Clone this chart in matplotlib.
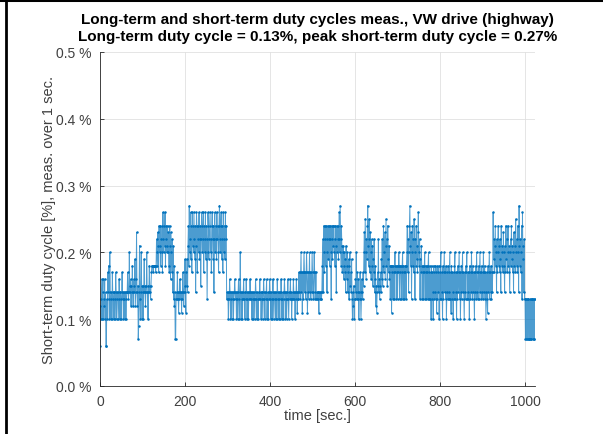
import matplotlib
matplotlib.use('Agg')
import matplotlib.pyplot as plt
import numpy as np
from matplotlib.lines import Line2D

# short-term duty cycle, hundredths of a percent, one value per second
duty_000 = [6, 12, 10, 13, 16, 10, 14, 16, 10, 13,
            12, 16, 10, 14, 6, 6, 13, 10, 17, 14,
            18, 13, 10, 20, 14, 10, 13, 14, 10, 17,
            14, 13, 10, 14, 14, 10, 13, 17, 14, 10,
            14, 13, 14, 10, 13, 16, 14, 10, 14, 13,
            10, 14, 17, 13, 14, 10, 14, 13, 10, 14,
            14, 10, 13, 14, 14, 17, 14, 13, 14, 20,
            14, 15, 16, 12, 15, 14, 18, 14, 12, 16,
            15, 14, 19, 12, 14, 16, 23, 14, 12, 15,
            7, 9, 14, 21, 13, 10, 14, 20, 15, 10]
duty_100 = [14, 15, 10, 14, 19, 14, 15, 12, 14, 15,
            20, 14, 14, 10, 15, 14, 18, 15, 14, 13,
            15, 17, 18, 18, 18, 17, 18, 18, 18, 18,
            18, 17, 18, 22, 20, 18, 23, 21, 17, 24,
            21, 20, 24, 18, 22, 20, 24, 17, 26, 22,
            20, 24, 21, 26, 18, 22, 24, 20, 21, 24,
            20, 23, 18, 17, 24, 21, 16, 23, 20, 17,
            22, 14, 21, 13, 18, 12, 14, 7, 7, 13,
            14, 13, 17, 14, 13, 11, 14, 13, 16, 14,
            13, 14, 11, 14, 13, 17, 14, 12, 14, 15]
duty_200 = [19, 14, 11, 17, 15, 19, 14, 21, 24, 18,
            27, 20, 22, 26, 19, 24, 17, 26, 21, 24,
            20, 26, 22, 19, 24, 14, 21, 26, 24, 17,
            22, 24, 20, 26, 19, 22, 24, 15, 22, 26,
            24, 20, 22, 26, 17, 24, 20, 22, 26, 19,
            24, 22, 13, 20, 26, 24, 19, 22, 24, 26,
            20, 22, 17, 24, 26, 22, 19, 24, 14, 22,
            26, 20, 24, 22, 19, 26, 22, 24, 20, 17,
            24, 27, 22, 20, 24, 26, 19, 22, 24, 17,
            26, 22, 20, 24, 19, 26, 22, 24, 13, 14]
duty_300 = [13, 14, 10, 14, 13, 16, 14, 10, 13, 14,
            10, 14, 13, 14, 10, 13, 14, 16, 14, 13,
            14, 10, 13, 14, 10, 14, 16, 13, 10, 14,
            20, 14, 10, 13, 14, 10, 13, 14, 16, 13,
            14, 10, 14, 13, 16, 14, 10, 13, 14, 10,
            13, 14, 13, 16, 14, 13, 14, 10, 14, 13,
            10, 14, 13, 14, 10, 13, 16, 14, 13, 10,
            14, 13, 10, 14, 13, 14, 16, 13, 14, 10,
            13, 14, 14, 10, 13, 16, 14, 13, 10, 14,
            13, 14, 16, 10, 13, 14, 10, 14, 13, 16]
duty_400 = [14, 13, 10, 14, 13, 10, 14, 16, 13, 10,
            14, 13, 14, 10, 13, 14, 10, 16, 14, 13,
            10, 14, 13, 10, 14, 13, 16, 14, 10, 13,
            14, 10, 13, 14, 16, 14, 10, 13, 14, 10,
            13, 14, 16, 13, 10, 14, 13, 14, 16, 13,
            14, 10, 13, 14, 13, 16, 14, 13, 14, 10,
            14, 13, 16, 14, 11, 13, 14, 13, 17, 14,
            17, 13, 17, 20, 14, 17, 11, 17, 13, 17,
            20, 17, 14, 17, 13, 17, 20, 17, 11, 14,
            17, 13, 17, 20, 14, 17, 13, 17, 14, 20]
duty_500 = [17, 14, 13, 17, 20, 17, 13, 14, 17, 13,
            14, 13, 14, 14, 13, 11, 14, 13, 14, 13,
            14, 13, 14, 18, 22, 14, 24, 20, 17, 24,
            22, 18, 24, 20, 14, 22, 24, 19, 22, 24,
            18, 22, 24, 20, 13, 24, 22, 19, 24, 21,
            24, 20, 22, 18, 24, 21, 14, 24, 20, 22,
            24, 19, 22, 26, 20, 27, 22, 18, 24, 21,
            17, 20, 21, 18, 16, 20, 17, 19, 14, 21,
            18, 16, 20, 14, 17, 19, 13, 18, 20, 15,
            17, 14, 19, 13, 10, 14, 12, 15, 10, 13]
duty_600 = [13, 16, 14, 20, 13, 17, 14, 13, 16, 10,
            14, 13, 17, 14, 10, 13, 16, 14, 13, 17,
            15, 20, 23, 17, 25, 20, 16, 22, 19, 24,
            27, 21, 18, 25, 22, 17, 23, 20, 16, 22,
            18, 21, 15, 19, 17, 22, 14, 18, 16, 12,
            15, 11, 14, 17, 15, 22, 14, 16, 13, 15,
            17, 14, 19, 16, 22, 15, 18, 24, 17, 20,
            23, 16, 21, 25, 18, 22, 15, 24, 19, 17,
            21, 16, 18, 13, 18, 18, 11, 17, 18, 13,
            18, 17, 13, 18, 20, 17, 18, 13, 17, 18]
duty_700 = [13, 18, 17, 20, 18, 13, 18, 17, 18, 13,
            17, 18, 20, 13, 18, 17, 13, 18, 17, 18,
            13, 18, 20, 24, 17, 22, 14, 20, 24, 27,
            21, 18, 23, 13, 20, 24, 18, 22, 17, 25,
            20, 13, 22, 18, 24, 19, 21, 17, 23, 26,
            20, 18, 22, 13, 19, 17, 21, 18, 13, 17,
            18, 13, 17, 18, 20, 13, 18, 17, 13, 18,
            17, 13, 18, 20, 13, 17, 18, 13, 17, 10,
            18, 13, 17, 14, 10, 18, 13, 17, 14, 18,
            13, 17, 11, 18, 13, 17, 14, 18, 10, 17]
duty_800 = [13, 18, 20, 13, 17, 14, 10, 18, 13, 17,
            20, 14, 17, 13, 18, 10, 14, 17, 13, 18,
            14, 13, 17, 20, 13, 17, 11, 18, 13, 17,
            14, 10, 17, 13, 18, 20, 13, 17, 14, 10,
            17, 13, 18, 14, 17, 20, 13, 17, 10, 14,
            18, 13, 17, 20, 14, 17, 13, 10, 17, 14,
            13, 18, 17, 20, 13, 17, 14, 13, 17, 10,
            18, 13, 17, 14, 20, 17, 13, 18, 14, 17,
            13, 10, 17, 14, 18, 13, 20, 17, 14, 13,
            17, 18, 13, 17, 20, 14, 17, 13, 18, 14]
duty_900 = [17, 13, 20, 17, 14, 18, 13, 17, 10, 14,
            17, 13, 11, 18, 14, 17, 20, 13, 17, 14,
            18, 13, 17, 14, 17, 26, 19, 22, 17, 21,
            24, 18, 20, 14, 22, 17, 20, 24, 18, 21,
            17, 22, 19, 14, 24, 20, 18, 21, 17, 23,
            20, 18, 14, 21, 17, 24, 19, 22, 17, 20,
            24, 18, 21, 17, 14, 20, 22, 18, 24, 19,
            21, 17, 20, 14, 23, 18, 21, 17, 25, 20,
            18, 22, 17, 24, 20, 14, 27, 21, 18, 22,
            17, 20, 24, 13, 26, 19, 21, 14, 22, 13]
duty_1000 = [13, 7, 13, 7, 7, 13, 7, 13, 13, 7,
             7, 13, 7, 13, 7, 7, 13, 13, 7, 13,
             7, 13, 7, 13]

yticks = [0.0, 0.1, 0.2, 0.3, 0.4, 0.5]
ytick_labels = ['0.0 %', '0.1 %', '0.2 %', '0.3 %', '0.4 %', '0.5 %']
xticks = [0, 200, 400, 600, 800, 1000]

duty = np.array(duty_000 + duty_100 + duty_200 + duty_300 + duty_400 +
                duty_500 + duty_600 + duty_700 + duty_800 + duty_900 +
                duty_1000) / 100.0
t = np.arange(len(duty))

plt.rcParams['font.family'] = ['Liberation Sans', 'DejaVu Sans']
axcol = (0.15, 0.15, 0.15)
txtcol = (0.25, 0.25, 0.25)
blue = (0, 0.447, 0.741)

fig = plt.figure(figsize=(6.03, 4.35), dpi=100)
ax = fig.add_axes([100/603, 1 - 387/435, 435/603, 334/435])

# connecting line, then the sample dots on top
ax.plot(t, duty, color=blue, linewidth=0.7, alpha=0.7)
ax.plot(t, duty, linestyle='none', color=blue,
        marker='o', markersize=1.8, markeredgewidth=0)

ax.set_xlim(0, 1023.5)
ax.set_ylim(0, 0.5)
ax.set_yticks(yticks)
ax.set_yticklabels(ytick_labels)
ax.set_xticks(xticks)
ax.grid(True, color=(0.88, 0.88, 0.88), linewidth=0.6)
ax.set_axisbelow(True)
for s in ['top', 'right']:
    ax.spines[s].set_visible(False)
for s in ['left', 'bottom']:
    ax.spines[s].set_color(axcol)
    ax.spines[s].set_linewidth(0.6)
ax.tick_params(direction='in', length=3, width=0.6, color=axcol,
               labelcolor=txtcol, labelsize=10, pad=6)

ax.set_xlabel('time [sec.]', fontsize=10.5, color=txtcol, labelpad=0)
ax.set_ylabel('Short-term duty cycle [%], meas. over 1 sec.', fontsize=10.5,
              color=txtcol, labelpad=0)
ax.set_title('Long-term and short-term duty cycles meas., VW drive (highway)\n'
             'Long-term duty cycle = 0.13%, peak short-term duty cycle = 0.27%',
             fontsize=11, fontweight='bold', linespacing=1.2, pad=9)

# screenshot frame (top and left edge)
fig.add_artist(Line2D([0, 1], [1 - 1.3/435, 1 - 1.3/435], color='black', linewidth=2.2,
                      transform=fig.transFigure))
fig.add_artist(Line2D([6/603, 6/603], [0, 1], color='black', linewidth=2.0,
                      transform=fig.transFigure))

fig.savefig('out.png', dpi=100)
